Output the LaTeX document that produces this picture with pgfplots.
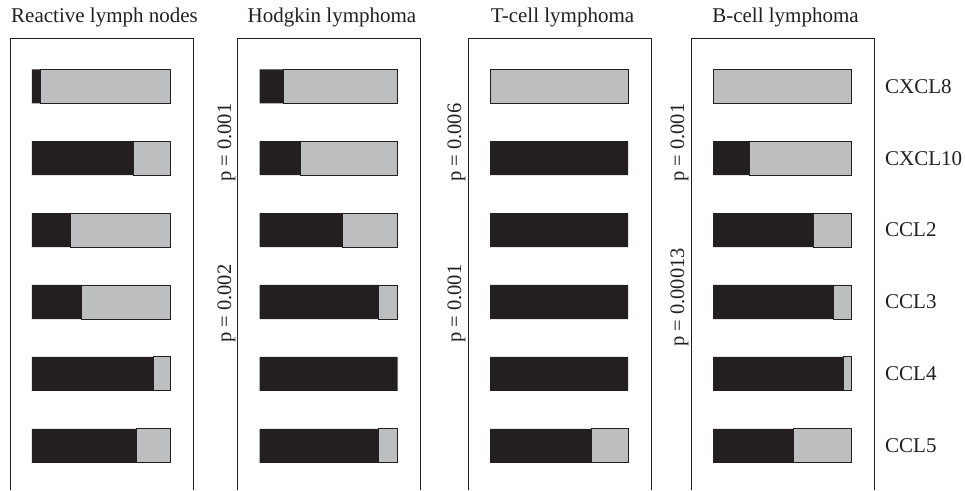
\documentclass[border=0pt]{standalone}
\usepackage{fontspec}
\setmainfont{Liberation Serif}
\usepackage{pgfplots}
\pgfplotsset{compat=1.18}
\definecolor{barblack}{HTML}{231F20}
\definecolor{bargrey}{HTML}{BCBEC0}
\pgfplotsset{
  panel/.style={
    width=183pt, height=452pt, scale only axis,
    anchor=south west,
    xbar stacked, bar width=0.473,
    y dir=reverse,
    xmin=-15.94, xmax=116.67,
    ymin=-0.672, ymax=5.615,
    axis line style={draw=none},
    xtick=\empty, ytick=\empty,
    clip=false,
    title style={at={(0.5,1)}, anchor=base, yshift=10pt, xshift=3pt, inner sep=0pt,
      font=\fontsize{21}{24}\selectfont, text=barblack},
  },
  blackbar/.style={fill=barblack, draw=none},
  greybar/.style={fill=bargrey, draw=barblack, line width=0.9pt},
}
\newcommand{\frameit}{\draw[barblack, line width=1pt] (rel axis cs:0,0) -- (rel axis cs:0,1) -- (rel axis cs:1,1) -- (rel axis cs:1,0);}
\begin{document}
\begin{tikzpicture}[x=1pt,y=1pt]
\path (0,0) rectangle (965,490);
% Panel 1
\begin{axis}[panel, at={(10pt,0pt)}, title={Reactive lymph nodes}]
\addplot[blackbar] coordinates {(6,0) (73.4,1) (28,2) (36,3) (88,4) (76,5)};
\addplot[greybar] coordinates {(94,0) (26.6,1) (72,2) (64,3) (12,4) (24,5)};
\frameit
\end{axis}
% Panel 2
\begin{axis}[panel, at={(237.5pt,0pt)}, title={Hodgkin lymphoma}]
\addplot[blackbar] coordinates {(17.4,0) (30,1) (60,2) (86,3) (100,4) (86.5,5)};
\addplot[greybar] coordinates {(82.6,0) (70,1) (40,2) (14,3) (0,4) (13.5,5)};
\frameit
\end{axis}
% Panel 3
\begin{axis}[panel, at={(468pt,0pt)}, title={T-cell lymphoma}]
\addplot[blackbar] coordinates {(0,0) (100,1) (100,2) (100,3) (100,4) (73.6,5)};
\addplot[greybar] coordinates {(100,0) (0,1) (0,2) (0,3) (0,4) (26.4,5)};
\frameit
\end{axis}
% Panel 4
\begin{axis}[panel, at={(691pt,0pt)}, title={B-cell lymphoma},
  ytick={0,1,2,3,4,5}, yticklabels={CXCL8,CXCL10,CCL2,CCL3,CCL4,CCL5},
  yticklabel pos=right, major tick length=0pt,
  yticklabel style={anchor=west, inner sep=0pt, xshift=11pt, font=\fontsize{21}{24}\selectfont, text=barblack}]
\addplot[blackbar] coordinates {(0,0) (26.5,1) (72.5,2) (87,3) (94.7,4) (58.5,5)};
\addplot[greybar] coordinates {(100,0) (73.5,1) (27.5,2) (13,3) (5.3,4) (41.5,5)};
\frameit
\end{axis}
% p-values
\begin{scope}[every node/.style={rotate=90, anchor=base west, inner sep=0pt, font=\fontsize{20.5}{24}\selectfont, text=barblack}]
\node at (231,308) {p = 0.001};
\node at (231,147) {p = 0.002};
\node at (461,308) {p = 0.006};
\node at (461,147) {p = 0.001};
\node at (684,308) {p = 0.001};
\node at (684,143) {p = 0.00013};
\end{scope}
\end{tikzpicture}
\end{document}
